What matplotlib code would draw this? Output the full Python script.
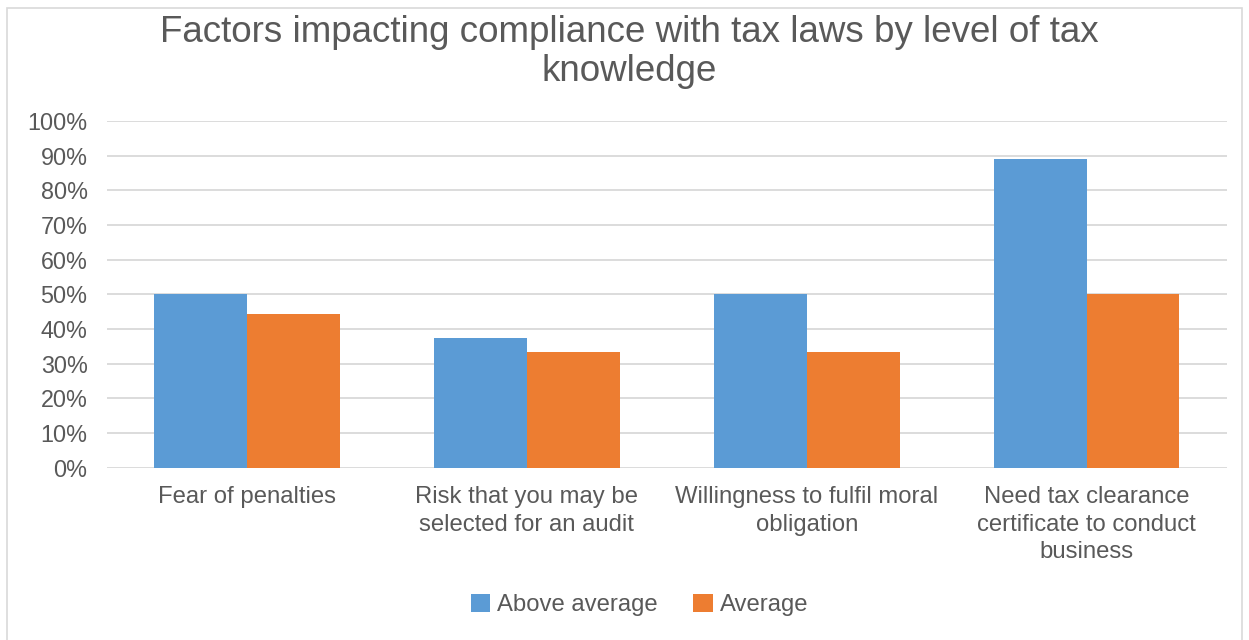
import matplotlib.pyplot as plt
import numpy as np
from matplotlib.patches import Rectangle
from matplotlib.ticker import FuncFormatter

plt.rcParams['font.family'] = ['Liberation Sans', 'DejaVu Sans']

categories = ['Fear of penalties',
              'Risk that you may be\nselected for an audit',
              'Willingness to fulfil moral\nobligation',
              'Need tax clearance\ncertificate to conduct\nbusiness']
above_avg = [50.0, 37.5, 50.0, 88.9]
average = [44.4, 33.3, 33.3, 50.0]
series_names = ['Above average', 'Average']

blue = '#5B9BD5'
orange = '#ED7D31'
txt = '#595959'

fig = plt.figure(figsize=(12.49, 6.4), dpi=100)
ax = fig.add_axes([0.0857, 0.269, 0.8963, 0.542])

x = np.arange(len(categories))
w = 0.332
ax.bar(x - w / 2, above_avg, w, color=blue, label=series_names[0], zorder=3)
ax.bar(x + w / 2, average, w, color=orange, label=series_names[1], zorder=3)

ax.set_xlim(-0.5, 3.5)
ax.set_ylim(0, 100)
ax.set_yticks(range(0, 101, 10))
ax.yaxis.set_major_formatter(FuncFormatter(lambda v, p: f'{int(v)}%'))
ax.grid(axis='y', color='#D9D9D9', linewidth=1.3, zorder=0)
for s in ax.spines.values():
    s.set_visible(False)
ax.tick_params(axis='y', length=0, labelsize=16.8, colors=txt, pad=14)
ax.tick_params(axis='x', length=0, labelsize=17.2, colors=txt, pad=13)
ax.set_xticks(x)
ax.set_xticklabels(categories, linespacing=1.33)

fig.text(0.504, 0.919, 'Factors impacting compliance with tax laws by level of tax\nknowledge',
         ha='center', va='center', fontsize=26.5, color=txt, linespacing=1.15)

fig.legend(loc='center', bbox_to_anchor=(0.512, 0.055), ncol=2, frameon=False,
           fontsize=17.2, labelcolor=txt, handlelength=0.8, handleheight=0.8,
           handletextpad=0.3, columnspacing=1.5)

fig.patches.append(Rectangle((0.006, -0.01), 0.988, 0.998, transform=fig.transFigure,
                             fill=False, edgecolor='#D9D9D9', linewidth=1.2))

fig.savefig('out.png', dpi=100)
